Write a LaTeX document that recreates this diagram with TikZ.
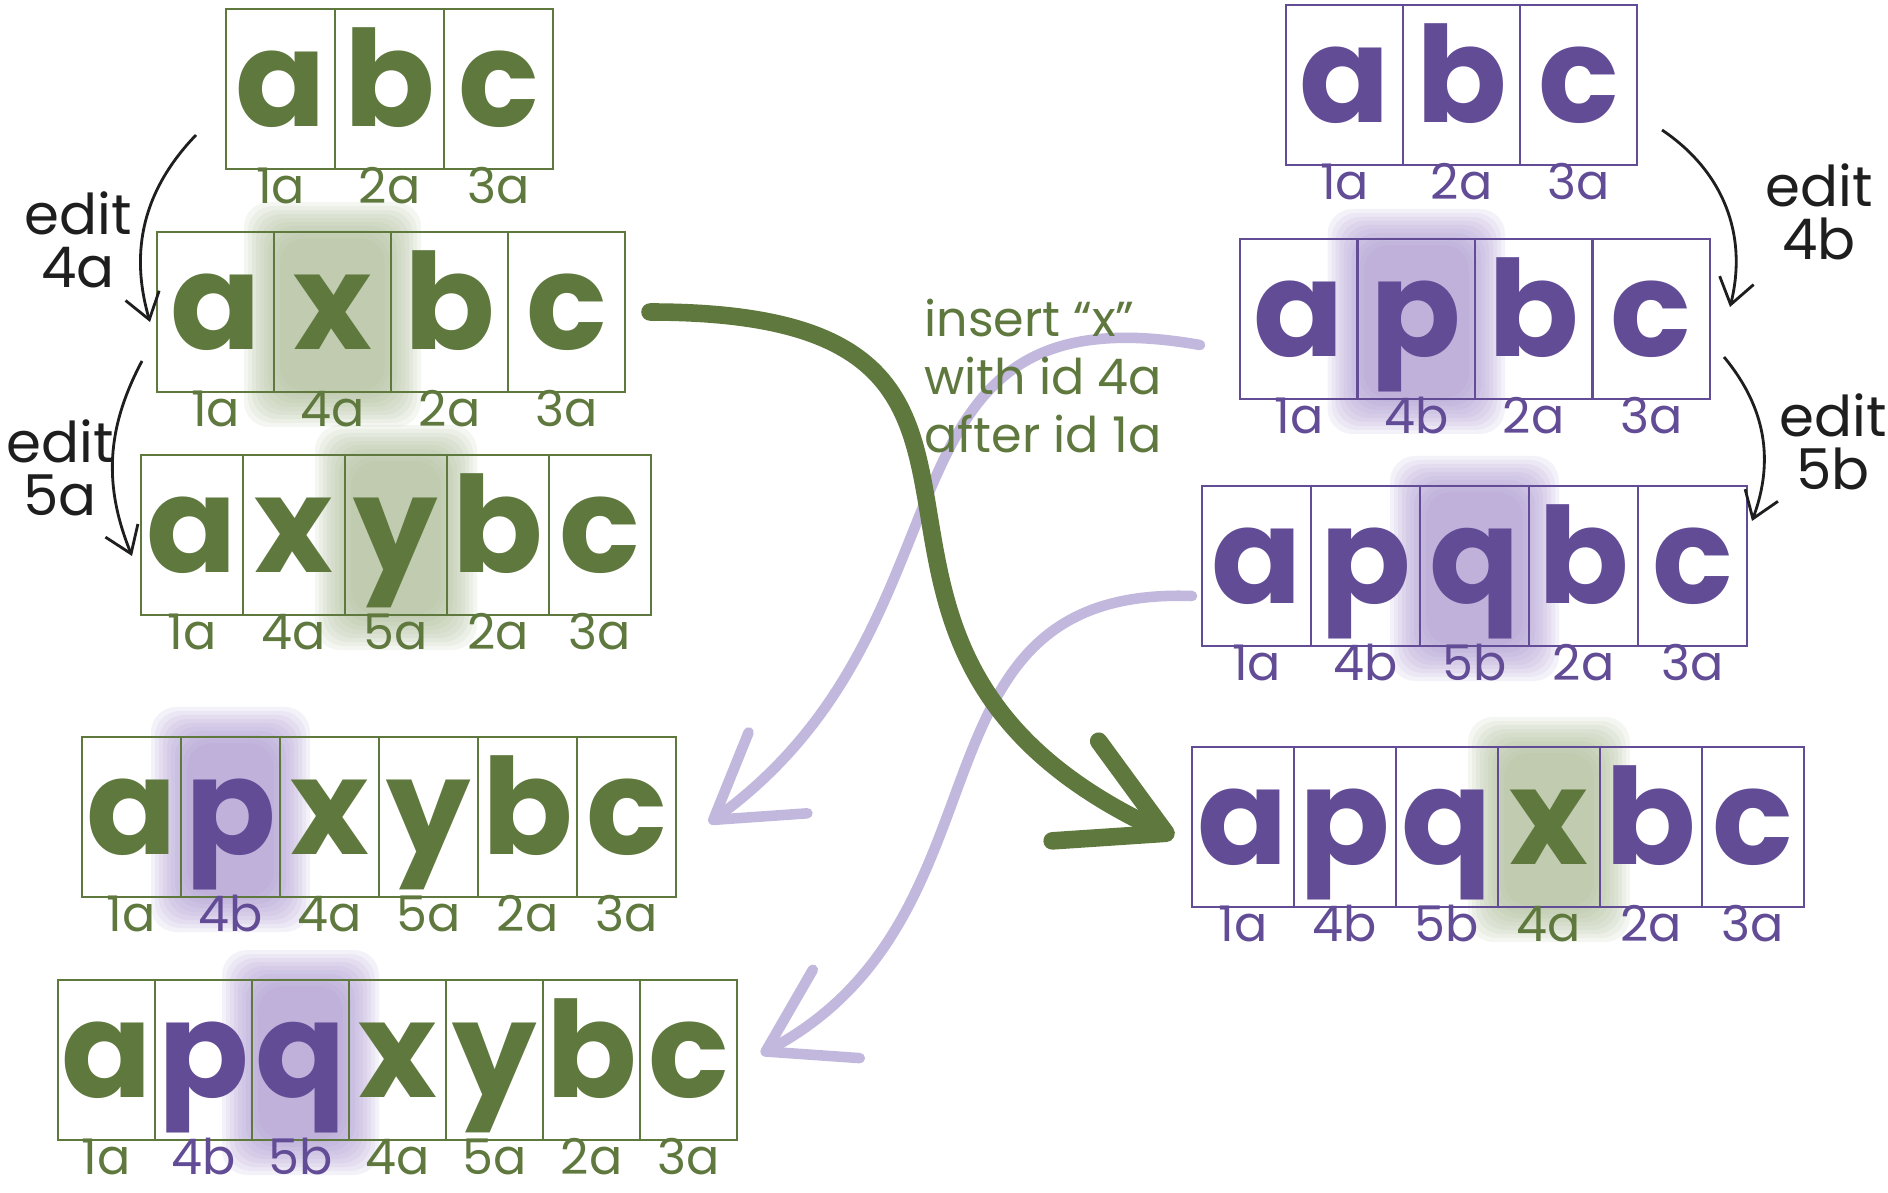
\documentclass[tikz,border=0pt]{standalone}
\usepackage{fontspec}
\setmainfont{Poppins}
\usetikzlibrary{positioning, arrows.meta, calc, backgrounds}
\definecolor{grn}{RGB}{95, 120, 62}
\definecolor{pur}{RGB}{98, 76, 150}
\definecolor{lpur}{RGB}{194, 184, 222}
\definecolor{hlg}{RGB}{168, 184, 146}
\definecolor{hlp}{RGB}{168, 148, 206}
\definecolor{ink}{RGB}{30, 30, 30}
\tikzset{
  cell/.style={line width=0.7pt, outer sep=0pt, inner sep=0pt, minimum height=1.6cm,
               text height=1.0cm, text depth=0.25cm, label distance=1.5mm,
               font=\fontsize{38}{42}\selectfont\bfseries},
  gbox/.style={cell, draw=grn, minimum width=#1},
  pbox/.style={cell, draw=pur, minimum width=#1},
  idtag/.style={text=#1, font=\fontsize{14}{16}\selectfont, inner sep=0.5pt,
                text height=0.32cm, text depth=0.02cm},
  gl/.style={text=grn, label={[idtag=grn]below:#1}},
  pl/.style={text=pur, label={[idtag=pur]below:#1}},
  halo/.style={fill=#1, opacity=0.12, rounded corners=2.5mm},
  editarr/.style={-{Straight Barb[length=2.5mm, width=3.5mm]}, line width=0.8pt, draw=ink},
  editlbl/.style={text=ink, font=\fontsize{16}{15}\selectfont, align=center},
  note/.style={text=grn, font=\fontsize{14}{16.5}\selectfont, align=left},
  bigarr/.style={-{Straight Barb[length=10mm, width=11mm, round]}, line width=5pt,
                 draw=grn, line cap=round},
  lightarr/.style={-{Straight Barb[length=8mm, width=10mm, round]}, line width=3pt,
                   draw=lpur, line cap=round},
}

\begin{document}
\begin{tikzpicture}
  \useasboundingbox (0,0) rectangle (18.88,-11.93);
  % Left column: edits by a
  \node[gbox=1.09cm, gl=1a, anchor=west] (ga1) at (2.26,-0.89) {a};
  \node[gbox=1.09cm, gl=2a, right=0pt of ga1] (ga2) {b};
  \node[gbox=1.09cm, gl=3a, right=0pt of ga2] (ga3) {c};

  \node[gbox=1.17cm, gl=1a, anchor=west] (gb1) at (1.57,-3.12) {a};
  \node[gbox=1.17cm, gl=4a, right=0pt of gb1] (gb2) {x};
  \node[gbox=1.17cm, gl=2a, right=0pt of gb2] (gb3) {b};
  \node[gbox=1.17cm, gl=3a, right=0pt of gb3] (gb4) {c};

  \node[gbox=1.02cm, gl=1a, anchor=west] (gc1) at (1.41,-5.35) {a};
  \node[gbox=1.02cm, gl=4a, right=0pt of gc1] (gc2) {x};
  \node[gbox=1.02cm, gl=5a, right=0pt of gc2] (gc3) {y};
  \node[gbox=1.02cm, gl=2a, right=0pt of gc3] (gc4) {b};
  \node[gbox=1.02cm, gl=3a, right=0pt of gc4] (gc5) {c};

  \node[gbox=0.99cm, gl=1a, anchor=west] (gd1) at (0.82,-8.17) {a};
  \node[gbox=0.99cm, pl=4b, right=0pt of gd1] (gd2) {p};
  \node[gbox=0.99cm, gl=4a, right=0pt of gd2] (gd3) {x};
  \node[gbox=0.99cm, gl=5a, right=0pt of gd3] (gd4) {y};
  \node[gbox=0.99cm, gl=2a, right=0pt of gd4] (gd5) {b};
  \node[gbox=0.99cm, gl=3a, right=0pt of gd5] (gd6) {c};

  \node[gbox=0.97cm, gl=1a, anchor=west] (ge1) at (0.58,-10.60) {a};
  \node[gbox=0.97cm, pl=4b, right=0pt of ge1] (ge2) {p};
  \node[gbox=0.97cm, pl=5b, right=0pt of ge2] (ge3) {q};
  \node[gbox=0.97cm, gl=4a, right=0pt of ge3] (ge4) {x};
  \node[gbox=0.97cm, gl=5a, right=0pt of ge4] (ge5) {y};
  \node[gbox=0.97cm, gl=2a, right=0pt of ge5] (ge6) {b};
  \node[gbox=0.97cm, gl=3a, right=0pt of ge6] (ge7) {c};

  % Right column: edits by b
  \node[pbox=1.17cm, pl=1a, anchor=west] (pa1) at (12.86,-0.85) {a};
  \node[pbox=1.17cm, pl=2a, right=0pt of pa1] (pa2) {b};
  \node[pbox=1.17cm, pl=3a, right=0pt of pa2] (pa3) {c};

  \node[pbox=1.175cm, pl=1a, anchor=west] (pb1) at (12.40,-3.19) {a};
  \node[pbox=1.175cm, pl=4b, right=0pt of pb1] (pb2) {p};
  \node[pbox=1.175cm, pl=2a, right=0pt of pb2] (pb3) {b};
  \node[pbox=1.175cm, pl=3a, right=0pt of pb3] (pb4) {c};

  \node[pbox=1.09cm, pl=1a, anchor=west] (pc1) at (12.02,-5.66) {a};
  \node[pbox=1.09cm, pl=4b, right=0pt of pc1] (pc2) {p};
  \node[pbox=1.09cm, pl=5b, right=0pt of pc2] (pc3) {q};
  \node[pbox=1.09cm, pl=2a, right=0pt of pc3] (pc4) {b};
  \node[pbox=1.09cm, pl=3a, right=0pt of pc4] (pc5) {c};

  \node[pbox=1.02cm, pl=1a, anchor=west] (pd1) at (11.92,-8.27) {a};
  \node[pbox=1.02cm, pl=4b, right=0pt of pd1] (pd2) {p};
  \node[pbox=1.02cm, pl=5b, right=0pt of pd2] (pd3) {q};
  \node[pbox=1.02cm, gl=4a, right=0pt of pd3] (pd4) {x};
  \node[pbox=1.02cm, pl=2a, right=0pt of pd4] (pd5) {b};
  \node[pbox=1.02cm, pl=3a, right=0pt of pd5] (pd6) {c};

  % Highlighted inserts
  \begin{scope}[on background layer]
    \foreach \c/\h in {gb2/hlg, gc3/hlg, gd2/hlp, ge3/hlp, pb2/hlp, pc3/hlp, pd4/hlg}
      \foreach \d in {0.3, 0.26, 0.22, 0.18, 0.14, 0.1, 0.06, 0.02, -0.02, -0.06}
        \fill[halo=\h] ($(\c.south west)+(-\d,-\d-0.05)$) rectangle ($(\c.north east)+(\d,\d)$);
  \end{scope}

  % Local edits
  \node[editlbl] (e4a) at (0.78,-2.40) {edit\\4a};
  \node[editlbl] (e5a) at (0.60,-4.68) {edit\\5a};
  \node[editlbl] (e4b) at (18.19,-2.12) {edit\\4b};
  \node[editlbl] (e5b) at (18.33,-4.42) {edit\\5b};
  \draw[editarr] ([xshift=-3mm, yshift=-4.6mm]ga1.west) to[bend right=30] ([xshift=-0.7mm, yshift=-1mm]gb1.west);
  \draw[editarr] ([xshift=-1.5mm, yshift=-4.9mm]gb1.west) to[bend right=25] ([xshift=-0.9mm, yshift=-2.1mm]gc1.west);
  \draw[editarr] ([xshift=2.5mm, yshift=-4.5mm]pa3.east) to[bend left=35] ([xshift=2mm, yshift=1.2mm]pb4.east);
  \draw[editarr] ([xshift=1.4mm, yshift=-3.8mm]pb4.east) to[bend left=30] ([xshift=0.5mm, yshift=4.5mm]pc5.east);

  % Remote operations
  \draw[lightarr] ([xshift=-4mm, yshift=-2.6mm]pb1.west) to[out=170, in=36, looseness=1.3] ([xshift=3.3mm, yshift=-0.6mm]gd6.east);
  \draw[lightarr] ([xshift=-1mm, yshift=-3mm]pc1.west) to[out=178, in=28, looseness=1.2] ([xshift=2.4mm, yshift=0.6mm]ge7.east);
  \draw[bigarr] ([xshift=2.5mm]gb4.east) to[out=0, in=155, looseness=1.6] ([xshift=-1.8mm, yshift=-1mm]pd1.west);
  \node[note, anchor=west] (ins) at (9.12,-3.76) {insert “x”\\with id 4a\\after id 1a};
\end{tikzpicture}
\end{document}
